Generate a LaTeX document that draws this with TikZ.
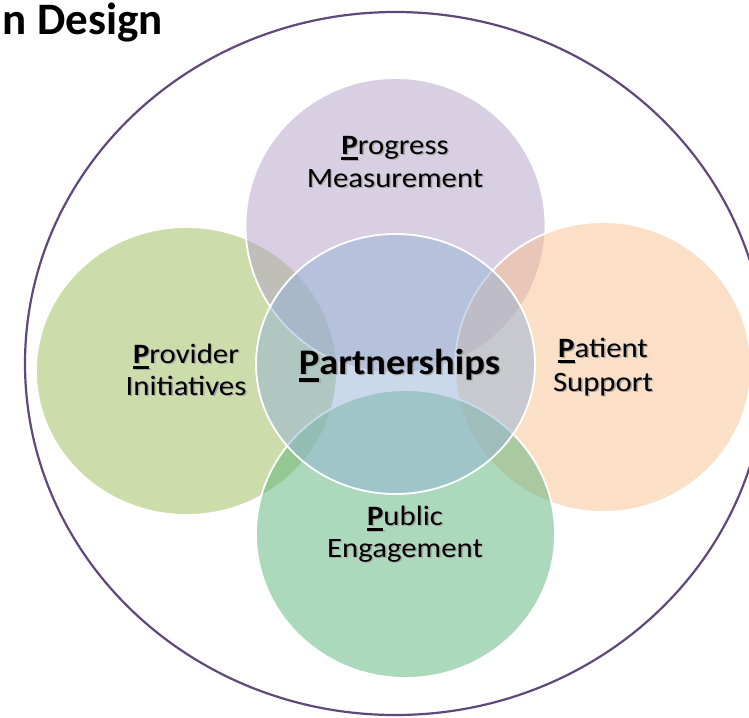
\documentclass[tikz,border=0pt]{standalone}
\usepackage{fontspec}
\setmainfont{Carlito}
\definecolor{cPurple}{HTML}{B3A2C7}
\definecolor{cGreen}{HTML}{9BBB59}
\definecolor{cOrange}{HTML}{FAC090}
\definecolor{cMint}{HTML}{5BB57B}
\definecolor{cBlue}{HTML}{95B3D7}
\definecolor{cRing}{HTML}{5F497A}
\newcommand\shtext[1]{\rlap{\kern1.3pt\raisebox{-1.3pt}{\textcolor{black!35}{#1}}}#1}
\newcommand\uP{{\bfseries\setbox0\hbox{P}\rlap{\rule[-0.21em]{\wd0}{0.095em}}\box0}}
\tikzset{
  blob/.style={fill=#1, fill opacity=0.5, draw=white, line width=1.8pt},
  lbl/.style={anchor=base, inner sep=0pt, font=\fontsize{28}{34}\selectfont, xscale=1.1},
  bigl/.style={anchor=base, inner sep=0pt, font=\fontsize{36}{44}\selectfont\bfseries, xscale=1.07},
  ttl/.style={anchor=base east, inner sep=0pt, font=\fontsize{45}{54}\selectfont\bfseries}
}
\begin{document}
\begin{tikzpicture}[x=1pt,y=-1pt]
\useasboundingbox (0,0) rectangle (749,717);
\clip (0,0) rectangle (749,717);
\fill[white] (0,0) rectangle (749,717);
% outer ring
\draw[cRing, line width=2.2pt] (395.5,363.5) ellipse [x radius=370.5pt, y radius=351.5pt];
% circles
\path[blob=cGreen]  (186.5,371) ellipse [x radius=150.5pt, y radius=144pt];
\path[blob=cPurple] (395.5,225.5) ellipse [x radius=150pt, y radius=147.5pt];
\path[blob=cOrange] (603,367) ellipse [x radius=148pt, y radius=145pt];
\path[blob=cMint]   (405.5,534) ellipse [x radius=149.5pt, y radius=144pt];
\path[blob=cBlue]   (395.5,364) ellipse [x radius=139.5pt, y radius=130pt];
% title
\node[ttl] (title) at (163,35) {n Design};
% labels
\node[lbl] (pm1) at (395,154) {\shtext{\uP rogress}};
\node[lbl] (pm2) at (395,187) {\shtext{Measurement}};
\node[lbl] (pi1) at (186,363) {\shtext{\uP rovider}};
\node[lbl] (pi2) at (186,395) {\shtext{Initiatives}};
\node[lbl] (ps1) at (603,357) {\shtext{\uP atient}};
\node[lbl] (ps2) at (603,391) {\shtext{Support}};
\node[lbl] (pe1) at (405,525) {\shtext{\uP ublic}};
\node[lbl] (pe2) at (405,557) {\shtext{Engagement}};
\node[bigl] (pp) at (399.5,374) {\shtext{\uP artnerships}};
\end{tikzpicture}
\end{document}
